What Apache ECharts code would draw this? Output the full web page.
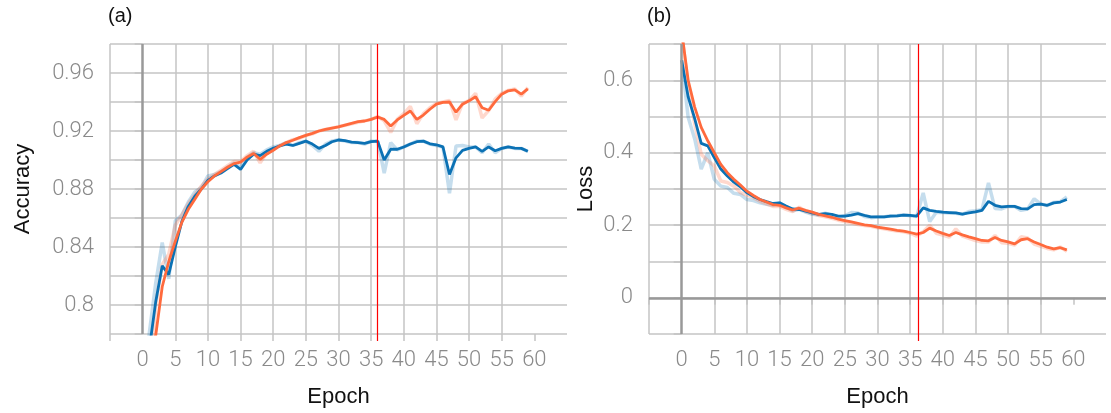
<!DOCTYPE html>
<html>
<head>
<meta charset="utf-8">
<script src="https://cdn.jsdelivr.net/npm/echarts@6/dist/echarts.min.js"></script>
<style>
  html, body { margin: 0; padding: 0; background: #fff; }
  #chart { width: 1111px; height: 413px; }
</style>
</head>
<body>
<div id="chart"></div>
<script>
// 每个 epoch 的指标（0..59）
const accValRaw = [0.66, 0.78, 0.815, 0.843, 0.818, 0.858, 0.862, 0.871, 0.878, 0.881,
  0.889, 0.890, 0.892, 0.895, 0.898, 0.895, 0.902, 0.905, 0.904, 0.907,
  0.909, 0.910, 0.912, 0.910, 0.912, 0.913, 0.910, 0.906, 0.911, 0.913,
  0.914, 0.913, 0.912, 0.912, 0.911, 0.913, 0.913, 0.891, 0.912, 0.907,
  0.909, 0.911, 0.913, 0.913, 0.911, 0.910, 0.909, 0.877, 0.9096, 0.910,
  0.909, 0.909, 0.905, 0.911, 0.905, 0.908, 0.909, 0.908, 0.908, 0.906]
const accVal = [0.66, 0.769, 0.802, 0.827, 0.821, 0.840, 0.8575, 0.868, 0.875, 0.880,
  0.886, 0.889, 0.891, 0.894, 0.897, 0.8935, 0.900, 0.904, 0.903, 0.906,
  0.908, 0.9097, 0.911, 0.910, 0.9115, 0.913, 0.911, 0.908, 0.910, 0.9126,
  0.9138, 0.9133, 0.9124, 0.912, 0.9115, 0.9126, 0.913, 0.900, 0.9074, 0.9074,
  0.909, 0.911, 0.9126, 0.913, 0.9112, 0.9105, 0.909, 0.890, 0.9015, 0.9066,
  0.908, 0.909, 0.906, 0.909, 0.9064, 0.908, 0.909, 0.9082, 0.908, 0.906]
const accTrainRaw = [0.62, 0.74, 0.80, 0.828, 0.835, 0.855, 0.862, 0.870, 0.876, 0.882,
  0.887, 0.890, 0.893, 0.896, 0.899, 0.899, 0.903, 0.906, 0.898, 0.905,
  0.907, 0.910, 0.912, 0.914, 0.915, 0.917, 0.918, 0.920, 0.921, 0.922,
  0.923, 0.924, 0.925, 0.926, 0.927, 0.928, 0.930, 0.927, 0.919, 0.928,
  0.932, 0.937, 0.925, 0.932, 0.936, 0.939, 0.940, 0.941, 0.9276, 0.939,
  0.941, 0.946, 0.929, 0.934, 0.942, 0.946, 0.948, 0.949, 0.944, 0.950]
const accTrain = [0.62, 0.72, 0.779, 0.8126, 0.830, 0.844, 0.857, 0.866, 0.873, 0.880,
  0.885, 0.889, 0.892, 0.895, 0.8975, 0.8986, 0.902, 0.9045, 0.9005, 0.904,
  0.9067, 0.9097, 0.912, 0.9136, 0.9154, 0.917, 0.9184, 0.920, 0.9211, 0.922,
  0.9228, 0.9241, 0.9253, 0.9264, 0.9269, 0.928, 0.9297, 0.928, 0.9234, 0.9276,
  0.9308, 0.9338, 0.928, 0.931, 0.935, 0.9385, 0.9397, 0.940, 0.933, 0.9385,
  0.9408, 0.9436, 0.936, 0.9343, 0.9403, 0.9454, 0.9477, 0.9484, 0.9454, 0.949]

const lossValRaw = [0.655, 0.498, 0.438, 0.355, 0.40, 0.327, 0.308, 0.304, 0.288, 0.285,
  0.271, 0.268, 0.262, 0.258, 0.255, 0.262, 0.250, 0.240, 0.244, 0.236,
  0.230, 0.228, 0.233, 0.228, 0.222, 0.226, 0.235, 0.234, 0.224, 0.221,
  0.223, 0.223, 0.226, 0.226, 0.229, 0.226, 0.224, 0.289, 0.210, 0.236,
  0.235, 0.234, 0.233, 0.230, 0.238, 0.240, 0.243, 0.317, 0.246, 0.245,
  0.252, 0.252, 0.241, 0.245, 0.273, 0.259, 0.254, 0.263, 0.265, 0.278]
const lossVal = [0.655, 0.554, 0.494, 0.426, 0.419, 0.387, 0.355, 0.336, 0.319, 0.306,
  0.290, 0.279, 0.271, 0.265, 0.260, 0.262, 0.253, 0.245, 0.2435, 0.239,
  0.234, 0.230, 0.232, 0.230, 0.225, 0.225, 0.228, 0.232, 0.227, 0.223,
  0.223, 0.223, 0.225, 0.226, 0.228, 0.227, 0.225, 0.248, 0.241, 0.238,
  0.236, 0.235, 0.234, 0.231, 0.234, 0.2367, 0.241, 0.266, 0.255, 0.2505,
  0.252, 0.252, 0.246, 0.245, 0.257, 0.258, 0.255, 0.2617, 0.264, 0.271]
const lossTrainRaw = [0.735, 0.58, 0.48, 0.396, 0.378, 0.364, 0.322, 0.318, 0.308, 0.29,
  0.283, 0.276, 0.266, 0.259, 0.252, 0.252, 0.244, 0.238, 0.25, 0.238,
  0.233, 0.227, 0.223, 0.219, 0.214, 0.210, 0.206, 0.202, 0.199, 0.197,
  0.193, 0.190, 0.187, 0.184, 0.182, 0.178, 0.170, 0.182, 0.200, 0.178,
  0.173, 0.167, 0.190, 0.170, 0.164, 0.158, 0.154, 0.154, 0.172, 0.152,
  0.150, 0.145, 0.168, 0.165, 0.148, 0.142, 0.136, 0.132, 0.140, 0.128]
const lossTrain = [0.735, 0.60, 0.526, 0.47, 0.433, 0.40, 0.368, 0.345, 0.327, 0.311,
  0.294, 0.282, 0.271, 0.264, 0.257, 0.255, 0.248, 0.242, 0.247, 0.241,
  0.236, 0.230, 0.226, 0.222, 0.217, 0.213, 0.209, 0.205, 0.201, 0.199,
  0.195, 0.192, 0.189, 0.186, 0.184, 0.180, 0.1755, 0.180, 0.192, 0.184,
  0.1775, 0.1717, 0.180, 0.1736, 0.168, 0.163, 0.158, 0.157, 0.166, 0.158,
  0.154, 0.1486, 0.160, 0.163, 0.154, 0.1467, 0.1395, 0.135, 0.138, 0.132]

// x 轴刻度（0 处没有刻度线，只有粗的零线）
const epochTicks = [-5, 5, 10, 15, 20, 25, 30, 35, 40, 45, 50, 55, 60]
// 红色竖线位置
const markEpochAcc = 35.9
const markEpochLoss = 36.2

const BLUE = '#0b71b4'
const ORANGE = '#ff6a3d'
const BLUE_LIGHT = 'rgba(12,114,181,0.24)'
const ORANGE_LIGHT = 'rgba(255,106,61,0.26)'
const GRID_COLOR = '#c4c4c4'
const ZERO_COLOR = '#999999'

const labelStyle = {
  color: '#8a8a8a',
  fontSize: 22,
  fontFamily: 'Roboto',
  fontWeight: 300,
}
const nameStyle = {
  color: '#111',
  fontSize: 22,
  fontFamily: 'Liberation Sans',
}

const chart = echarts.init(document.getElementById('chart'))

function toPoints(values) {
  return values.map((v, i) => [i, v])
}

function xAxisFor(gridIndex) {
  return {
    type: 'value',
    gridIndex: gridIndex,
    min: -5,
    max: 65,
    interval: 5,
    name: 'Epoch',
    nameLocation: 'middle',
    nameGap: 52,
    nameTextStyle: nameStyle,
    axisLine: { show: false },
    axisTick: {
      show: true,
      length: 7,
      customValues: epochTicks,
      lineStyle: { color: GRID_COLOR, width: 1.5 },
    },
    axisLabel: {
      ...labelStyle,
      margin: 15,
      showMaxLabel: false,
      formatter: (v) => (v < 0 || v > 60 ? '' : String(v)),
    },
    splitLine: {
      show: true,
      showMaxLine: false,
      lineStyle: { color: GRID_COLOR, width: 1.5 },
    },
  }
}

function hiddenX(gridIndex) {
  return { type: 'value', gridIndex: gridIndex, min: -5, max: 65, show: false }
}

function hiddenY(gridIndex) {
  return { type: 'value', gridIndex: gridIndex, min: 0, max: 1, show: false }
}

function yAxisFor(gridIndex, name, nameGap, min, max, interval, labelFn) {
  return {
    type: 'value',
    gridIndex: gridIndex,
    min: min,
    max: max,
    interval: interval,
    name: name,
    nameLocation: 'middle',
    nameGap: nameGap,
    nameTextStyle: nameStyle,
    axisLine: { show: false },
    axisTick: {
      show: true,
      length: 8,
      lineStyle: { color: GRID_COLOR, width: 1.5 },
    },
    axisLabel: { ...labelStyle, margin: 16, formatter: labelFn },
    splitLine: { show: true, lineStyle: { color: GRID_COLOR, width: 1.5 } },
  }
}

function line(values, axis, color, width, z) {
  return {
    type: 'line',
    xAxisIndex: axis,
    yAxisIndex: axis,
    data: toPoints(values),
    symbol: 'none',
    silent: true,
    z: z,
    lineStyle: { color: color, width: width },
  }
}

function vline(axis, marks, color, width, z) {
  return {
    type: 'line',
    xAxisIndex: axis,
    yAxisIndex: axis,
    data: [],
    silent: true,
    z: z,
    markLine: {
      silent: true,
      symbol: 'none',
      label: { show: false },
      lineStyle: { color: color, width: width, type: 'solid', opacity: 1 },
      data: marks,
    },
  }
}

const option = {
  animation: false,
  title: [
    { text: '(a)', left: 108, top: 6, padding: 0, textStyle: { ...nameStyle, fontSize: 20, fontWeight: 'normal' } },
    { text: '(b)', left: 647, top: 6, padding: 0, textStyle: { ...nameStyle, fontSize: 20, fontWeight: 'normal' } },
  ],
  grid: [
    { left: 110, top: 44, width: 457, height: 290 },
    { left: 649, top: 44, width: 457, height: 290 },
    // 红线要比绘图区略长，用同宽的透明网格来画
    { left: 110, top: 44, width: 457, height: 297 },
    { left: 649, top: 44, width: 457, height: 297 },
  ],
  xAxis: [xAxisFor(0), xAxisFor(1), hiddenX(2), hiddenX(3)],
  yAxis: [
    yAxisFor(0, 'Accuracy', 76, 0.78, 0.98, 0.02, (v) => {
      const k = Math.round(v * 100)
      return k % 4 === 0 ? String(k / 100) : ''
    }),
    yAxisFor(1, 'Loss', 52, -0.1, 0.7, 0.1, (v) => {
      const k = Math.round(v * 10)
      return k >= 0 && k % 2 === 0 ? String(k / 10) : ''
    }),
    hiddenY(2),
    hiddenY(3),
  ],
  series: [
    vline(0, [{ xAxis: 0 }], ZERO_COLOR, 2.5, 1),
    vline(1, [{ xAxis: 0 }, { yAxis: 0 }], ZERO_COLOR, 2.5, 1),
    line(accValRaw, 0, BLUE_LIGHT, 3.5, 2),
    line(accTrainRaw, 0, ORANGE_LIGHT, 3.5, 2),
    line(accVal, 0, BLUE, 2.8, 3),
    line(accTrain, 0, ORANGE, 2.8, 4),
    line(lossValRaw, 1, BLUE_LIGHT, 3.5, 2),
    line(lossTrainRaw, 1, ORANGE_LIGHT, 3.5, 2),
    line(lossVal, 1, BLUE, 2.8, 3),
    line(lossTrain, 1, ORANGE, 2.8, 4),
    vline(2, [{ xAxis: markEpochAcc }], '#ff0000', 1.2, 5),
    vline(3, [{ xAxis: markEpochLoss }], '#ff0000', 1.2, 5),
  ],
}

chart.setOption(option)
</script>
</body>
</html>
